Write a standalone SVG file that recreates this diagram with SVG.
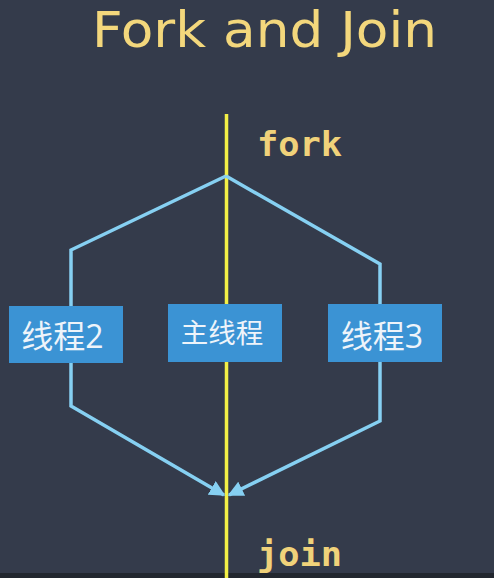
<svg xmlns="http://www.w3.org/2000/svg" width="494" height="578" viewBox="0 0 494 578">
<style>
.title{font-family:"DejaVu Sans","Open Sans",sans-serif;font-size:50px;fill:#f3d77c}
.code{font-family:"DejaVu Sans Mono","Liberation Mono",monospace;font-weight:bold;font-size:34px;fill:#f0d27a}
.box{fill:#3b93d4}
.lbl{font-family:"Open Sans","Noto Sans CJK SC",sans-serif;fill:#eef4fa;text-anchor:middle}
.wire{fill:none;stroke:#86d0f2;stroke-width:3.5;stroke-linejoin:miter}
</style>
<defs>
<marker id="ah" viewBox="0 0 10 10" refX="9" refY="5" markerWidth="4.5" markerHeight="4.5" orient="auto" markerUnits="strokeWidth">
<path d="M0,0 L10,5 L0,10 z" fill="#86d0f2"/>
</marker>
</defs>
<rect width="494" height="578" fill="#343b4b"/>
<rect y="573" width="494" height="5" fill="#22272f"/>
<text class="title" x="92" y="47" textLength="345" lengthAdjust="spacingAndGlyphs">Fork and Join</text>
<g id="main-line"><line x1="226.5" y1="114" x2="226.5" y2="578" stroke="#f3f046" stroke-width="3.5"/></g>
<text class="code" x="257" y="156" textLength="85" lengthAdjust="spacingAndGlyphs">fork</text>
<text class="code" x="257" y="566" textLength="85" lengthAdjust="spacingAndGlyphs">join</text>
<g id="connectors">
<polyline class="wire" points="226,176 71,250 71,307"/>
<polyline class="wire" points="226,176 380,264 380,305"/>
<polyline class="wire" points="71,362 71,406 224,495" marker-end="url(#ah)"/>
<polyline class="wire" points="380,362 380,421 229,495" marker-end="url(#ah)"/>
</g>
<g id="thread2"><rect class="box" x="9" y="306" width="114" height="57"/><text class="lbl" x="62.5" y="348" font-size="32">线程2</text></g>
<g id="mainthread"><rect class="box" x="168" y="304" width="114" height="58"/><text class="lbl" x="222" y="343" font-size="27.5">主线程</text></g>
<g id="thread3"><rect class="box" x="328" y="304" width="114" height="58"/><text class="lbl" x="382" y="348" font-size="32">线程3</text></g>
</svg>
